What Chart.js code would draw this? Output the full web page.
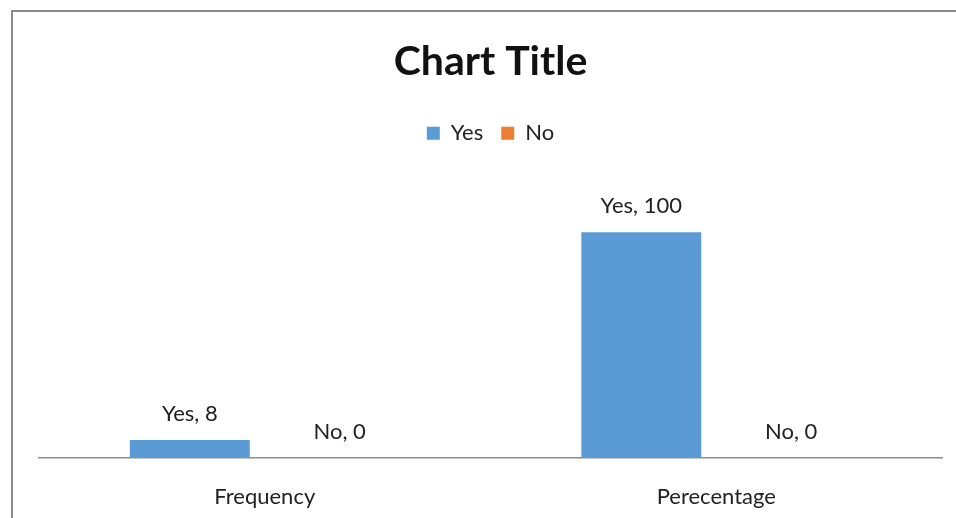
<!DOCTYPE html>
<html>
<head>
<meta charset="utf-8">
<title>Chart Title</title>
<script src="https://cdn.jsdelivr.net/npm/chart.js@4/dist/chart.umd.min.js"></script>
<style>
    html, body { margin: 0; padding: 0; background: #fff; overflow: hidden; }
    #wrap { position: relative; width: 956px; height: 518px; }
</style>
</head>
<body>
<div id="wrap"><canvas id="chart" width="956" height="518"></canvas></div>
<script>
// Chart data
const categories = ['Frequency', 'Perecentage'];
const yesValues = [8, 100];
const noValues = [0, 0];
const seriesNames = ['Yes', 'No'];

const textFont = 'Lato';

// Draw the outer chart frame (only top and left edges are inside the picture)
const framePlugin = {
    id: 'frame',
    beforeDraw(chart) {
        const ctx = chart.ctx;
        ctx.save();
        ctx.strokeStyle = '#8a8a8a';
        ctx.lineWidth = 2;
        ctx.strokeRect(12, 11, 1000, 600);
        ctx.restore();
    }
};

// Data labels like "Yes, 8" above each bar
const labelPlugin = {
    id: 'barLabels',
    afterDatasetsDraw(chart) {
        const ctx = chart.ctx;
        ctx.save();
        ctx.font = '22px ' + textFont;
        ctx.fillStyle = '#222';
        ctx.textAlign = 'center';
        ctx.textBaseline = 'alphabetic';
        chart.data.datasets.forEach((ds, i) => {
            const meta = chart.getDatasetMeta(i);
            meta.data.forEach((bar, j) => {
                ctx.fillText(ds.label + ', ' + ds.data[j], bar.x, bar.y - 19);
            });
        });
        ctx.restore();
    }
};

const ctx = document.getElementById('chart').getContext('2d');

new Chart(ctx, {
    type: 'bar',
    data: {
        labels: categories,
        datasets: [
            {
                label: seriesNames[0],
                data: yesValues,
                backgroundColor: '#5b9bd5',
                borderWidth: 0,
                categoryPercentage: 0.664,
                barPercentage: 0.8
            },
            {
                label: seriesNames[1],
                data: noValues,
                backgroundColor: '#ed7d31',
                borderWidth: 0,
                categoryPercentage: 0.664,
                barPercentage: 0.8
            }
        ]
    },
    options: {
        responsive: false,
        animation: false,
        layout: {
            padding: { left: 39, right: 14, top: 0, bottom: 0 }
        },
        plugins: {
            title: {
                display: true,
                text: 'Chart Title',
                color: '#111',
                font: { family: textFont, size: 41, weight: 'bold' },
                padding: { top: 37, bottom: 18 }
            },
            // empty subtitle used as a spacer between legend and plot
            subtitle: {
                display: true,
                text: '',
                weight: 500,
                font: { size: 10, lineHeight: 1 },
                padding: { top: 23, bottom: 0 }
            },
            legend: {
                display: true,
                labels: {
                    color: '#222',
                    font: { family: textFont, size: 22 },
                    boxWidth: 13,
                    boxHeight: 13,
                    padding: 18
                }
            },
            tooltip: { enabled: false }
        },
        scales: {
            x: {
                grid: { display: false, drawTicks: false },
                border: { display: true, color: '#8c8c8c', width: 1.5 },
                ticks: {
                    color: '#222',
                    font: { family: textFont, size: 22 },
                    padding: 26
                },
                afterFit(scale) {
                    scale.height = 60;
                }
            },
            y: {
                display: false,
                min: 0,
                max: 120
            }
        }
    },
    plugins: [framePlugin, labelPlugin]
});
</script>
</body>
</html>
